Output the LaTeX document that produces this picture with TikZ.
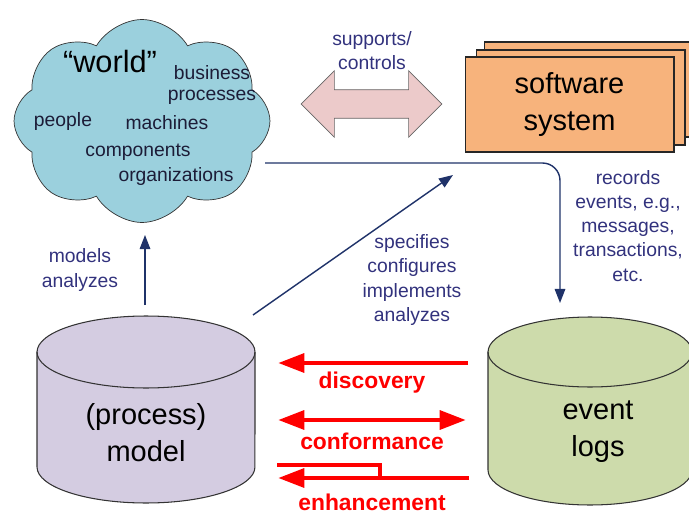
\documentclass[tikz,border=0pt]{standalone}
\usepackage{fontspec}
\setmainfont{Liberation Sans}
\usetikzlibrary{shapes.symbols,shapes.arrows,arrows.meta}

\definecolor{cloudblue}{RGB}{155,208,221}
\definecolor{sysorange}{RGB}{247,179,124}
\definecolor{pinkarrow}{RGB}{236,202,202}
\definecolor{modellav}{RGB}{212,204,225}
\definecolor{logsgreen}{RGB}{205,219,171}
\definecolor{navy}{RGB}{31,50,105}
\definecolor{labelblue}{RGB}{50,50,125}
\definecolor{worldtext}{RGB}{28,28,55}

\tikzset{
  lbl/.style={text=labelblue, font=\fontsize{11}{13.7}\selectfont, align=center},
  cloudtxt/.style={text=worldtext, font=\fontsize{11}{13.5}\selectfont},
  bigtxt/.style={font=\fontsize{16.5}{21}\selectfont, align=center},
  redtxt/.style={text=red, font=\fontsize{13}{14}\selectfont\bfseries},
  sysbox/.style={draw=black!85, fill=sysorange, line width=0.6pt,
    minimum width=4.18cm, minimum height=1.9cm},
  flow/.style={navy, line width=0.8pt, -{Triangle[length=8pt,width=6pt]}},
  mine/.style={red, line width=2.8pt, -{Triangle[length=15pt,width=10.5pt]}},
  cyl/.style={draw=black!80, line width=0.6pt}
}

\begin{document}
\begin{tikzpicture}[x=0.02cm,y=0.02cm]
  \useasboundingbox (0,0) rectangle (689,-513);

  % the world
  \node[cloud, cloud puffs=8, cloud puff arc=120, aspect=1.2, draw=black!80,
    fill=cloudblue, minimum width=5.12cm, minimum height=4.06cm] (world) at (142,-121) {};
  \node[font=\fontsize{17.5}{20}\selectfont] (quoted) at (110,-62) {“world”};
  \node[cloudtxt] (business) at (212,-73) {business};
  \node[cloudtxt] (processes) at (212,-97) {processes};
  \node[cloudtxt] (people) at (63,-122) {people};
  \node[cloudtxt] (machines) at (167,-123) {machines};
  \node[cloudtxt] (components) at (138,-152) {components};
  \node[cloudtxt] (organizations) at (176,-177) {organizations};

  % software system
  \node[sysbox] (sysback) at (588.5,-89.5) {};
  \node[sysbox] (sysmid) at (580.5,-97.5) {};
  \node[sysbox, bigtxt] (software) at (569.5,-104.5) {software\\system};

  \node[double arrow, draw=black!60, fill=pinkarrow, inner sep=0.28cm,
    double arrow head extend=0.38cm, double arrow tip angle=90,
    minimum height=2.82cm] (supports) at (371.5,-104) {};
  \node[lbl] (supportslbl) at (372,-51) {supports/\\controls};

  % process model
  \filldraw[cyl, fill=modellav] (37,-352) -- (37,-467)
    arc[start angle=180, end angle=360, x radius=2.18cm, y radius=0.72cm]
    -- (255,-352)
    arc[start angle=0, end angle=180, x radius=2.18cm, y radius=0.72cm] -- cycle;
  \draw[cyl] (37,-352) arc[start angle=180, end angle=360, x radius=2.18cm, y radius=0.72cm];
  \node[bigtxt] (model) at (146,-433) {(process)\\model};

  % event logs
  \filldraw[cyl, fill=logsgreen] (488,-352) -- (488,-470)
    arc[start angle=180, end angle=360, x radius=2.04cm, y radius=0.70cm]
    -- (692,-352)
    arc[start angle=0, end angle=180, x radius=2.04cm, y radius=0.70cm] -- cycle;
  \draw[cyl] (488,-352) arc[start angle=180, end angle=360, x radius=2.04cm, y radius=0.70cm];
  \node[bigtxt] (logs) at (598,-432) {event\\logs};

  % connectors
  \coordinate (modeltop) at (145,-305);
  \coordinate (worldbot) at (145,-235);
  \draw[flow] (modeltop) -- (worldbot);
  \node[lbl] (modelslbl) at (80,-270) {models\\analyzes};

  \coordinate (modelNE) at (253,-315);
  \coordinate (sysSW) at (453,-175);
  \draw[flow] (modelNE) -- (sysSW);
  \node[lbl] (specifieslbl) at (412,-280) {specifies\\configures\\implements\\analyzes};

  \coordinate (worldE) at (265,-163);
  \coordinate (corner) at (560,-163);
  \coordinate (logstop) at (560,-303);
  \draw[flow, rounded corners=10pt] (worldE) -- (corner) -- (logstop);
  \node[lbl] (recordslbl) at (628,-226) {records\\events, e.g.,\\messages,\\transactions,\\etc.};

  % process mining
  \coordinate (discR) at (468,-363);
  \coordinate (discL) at (278,-363);
  \draw[mine] (discR) -- (discL);
  \node[redtxt] (discovery) at (372,-383) {discovery};

  \coordinate (confR) at (466,-420);
  \coordinate (confL) at (278,-420);
  \draw[mine, {Triangle[length=15pt,width=10.5pt]}-{Triangle[length=15pt,width=10.5pt]}] (confL) -- (confR);
  \node[redtxt] (conformance) at (372,-441) {conformance};

  \coordinate (enhA) at (277,-465);
  \coordinate (enhB) at (380,-465);
  \coordinate (enhC) at (380,-478);
  \coordinate (enhR) at (469,-478);
  \coordinate (enhL) at (278,-478);
  \draw[mine, -, line join=miter] (enhA) -- (enhB) -- (enhC);
  \draw[mine] (enhR) -- (enhL);
  \node[redtxt] (enhancement) at (372,-502) {enhancement};
\end{tikzpicture}
\end{document}
